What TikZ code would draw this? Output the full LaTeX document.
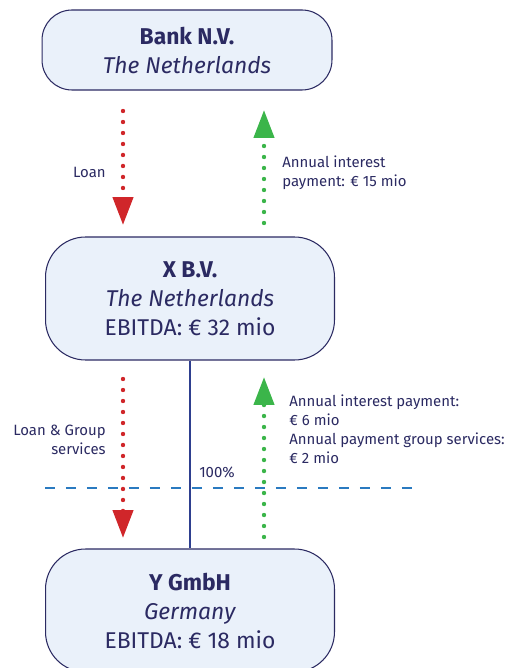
\documentclass[tikz,border=0pt]{standalone}
\usepackage{fontspec}
\setmainfont{Fira Sans}
\usepackage{tikz}
\usetikzlibrary{arrows.meta,positioning,calc}
\usepackage{xcolor}
\definecolor{navy}{HTML}{2B2A62}
\definecolor{boxfill}{HTML}{EAF1FA}
\definecolor{loanred}{HTML}{D0262A}
\definecolor{paygreen}{HTML}{3BB54A}
\definecolor{lineblue}{HTML}{2E3F8F}
\definecolor{dashblue}{HTML}{2A7AC0}

\begin{document}
\begin{tikzpicture}[x=0.02cm,y=-0.02cm,>=Latex, every node/.style={font=\fontsize{8.5}{10.8}\selectfont,text=navy}]
\tikzstyle{entity}=[draw=navy,line width=0.6pt,fill=boxfill,align=center,font=\fontsize{13}{16.5}\selectfont,text=navy]
\tikzstyle{flow}=[line width=2.5pt,line cap=round,dash pattern=on 0pt off 0.22cm,-{Triangle[width=0.4cm,length=0.56cm]}]
\tikzstyle{lbl}=[inner sep=0pt]
\clip (0,0) rectangle (518,668);
\useasboundingbox (0,0) rectangle (518,668);
% boxes
\node[entity,minimum width=5.8cm,minimum height=1.6cm,rounded corners=0.6cm] (bank) at (187,50) {\textbf{Bank N.V.}\\\textit{The Netherlands}};
\node[entity,minimum width=5.78cm,minimum height=2.46cm,rounded corners=0.8cm] (xbv) at (190,298.5) {\textbf{X B.V.}\\\textit{The Netherlands}\\EBITDA: € 32 mio};
\node[entity,minimum width=5.78cm,minimum height=2.46cm,rounded corners=0.8cm] (ygmbh) at (190,610.5) {\textbf{Y GmbH}\\\textit{Germany}\\EBITDA: € 18 mio};
% arrow ends
\coordinate (loan1s) at (123,111);
\coordinate (loan1e) at (123,225);
\coordinate (pay1s) at (264,223);
\coordinate (pay1e) at (264,110);
\coordinate (loan2s) at (123,379);
\coordinate (loan2e) at (123,538);
\coordinate (pay2s) at (264,537);
\coordinate (pay2e) at (264,377);
\coordinate (cutl) at (45,488);
\coordinate (cutr) at (415,488);
% labels
\node[lbl,anchor=east] (loan1) at (106,172) {Loan};
\node[lbl,anchor=west,align=left] (pay1) at (282,172.5) {Annual interest\\payment: € 15 mio};
\node[lbl,anchor=east,align=right] (loan2) at (106,439.5) {Loan \& Group\\services};
\node[lbl,anchor=west,align=left] (pay2) at (289,429.5) {Annual interest payment:\\€ 6 mio\\Annual payment group services:\\€ 2 mio};
\node[lbl] (share) at (217,472) {100\%};
% connectors
\draw[line width=1.4pt,lineblue] (xbv.south) -- (ygmbh.north);
\draw[dashblue,line width=1.5pt,dash pattern=on 0.2cm off 0.22cm] (cutl) -- (cutr);
\draw[flow,loanred] (loan1s) -- (loan1e);
\draw[flow,paygreen] (pay1s) -- (pay1e);
\draw[flow,loanred] (loan2s) -- (loan2e);
\draw[flow,paygreen] (pay2s) -- (pay2e);
\end{tikzpicture}
\end{document}
